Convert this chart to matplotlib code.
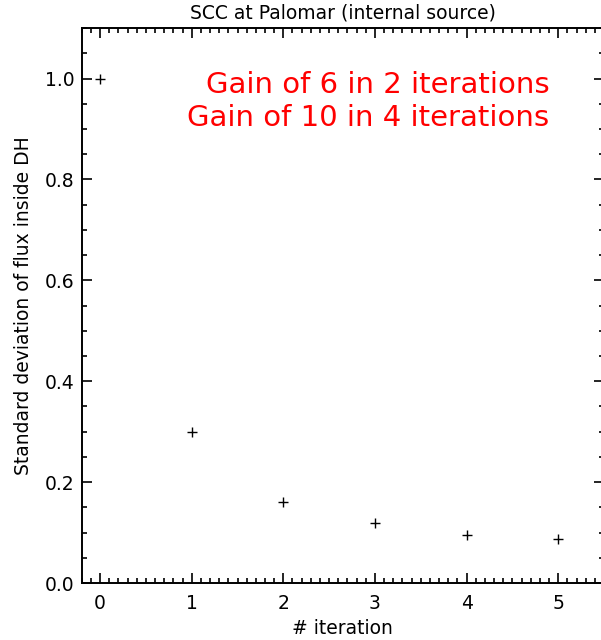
import matplotlib
matplotlib.use("Agg")
import matplotlib.pyplot as plt
from matplotlib.ticker import MultipleLocator

iterations = [0, 1, 2, 3, 4, 5]
std_flux = [1.0, 0.30, 0.16, 0.12, 0.095, 0.087]
title = "SCC at Palomar (internal source)"
xlabel = "# iteration"
ylabel = "Standard deviation of flux inside DH"
notes = ["Gain of 6 in 2 iterations", "Gain of 10 in 4 iterations"]

fs = 13.5
fig = plt.figure(figsize=(6.01, 6.40), dpi=100)
ax = fig.add_axes([0.136, 0.089, 0.869, 0.867])
ax.plot(iterations, std_flux, linestyle="none", marker="+", color="black",
        markersize=6.5, markeredgewidth=1.0)
ax.set_xlim(-0.2, 5.5)
ax.set_ylim(0.0, 1.1)
ax.xaxis.set_major_locator(MultipleLocator(1))
ax.xaxis.set_minor_locator(MultipleLocator(0.1))
ax.yaxis.set_major_locator(MultipleLocator(0.2))
ax.yaxis.set_minor_locator(MultipleLocator(0.05))
ax.yaxis.set_major_formatter(plt.FormatStrFormatter("%.1f"))
ax.tick_params(which="both", direction="in", top=True, right=True,
               width=1.2, labelsize=fs)
ax.tick_params(which="major", length=7.5)
ax.tick_params(which="minor", length=3.8)
ax.tick_params(axis="x", which="major", pad=8)
ax.tick_params(axis="y", which="major", pad=5)
for s in ax.spines.values():
    s.set_linewidth(1.4)
ax.set_title(title, fontsize=fs, pad=7)
ax.set_xlabel(xlabel, fontsize=fs, labelpad=4)
ax.set_ylabel(ylabel, fontsize=fs, labelpad=9)
ax.text(0.895, 0.897, notes[0], transform=ax.transAxes, color="red",
        fontsize=21, ha="right", va="center")
ax.text(0.895, 0.838, notes[1], transform=ax.transAxes, color="red",
        fontsize=21, ha="right", va="center")
fig.savefig("out.png", dpi=100)
